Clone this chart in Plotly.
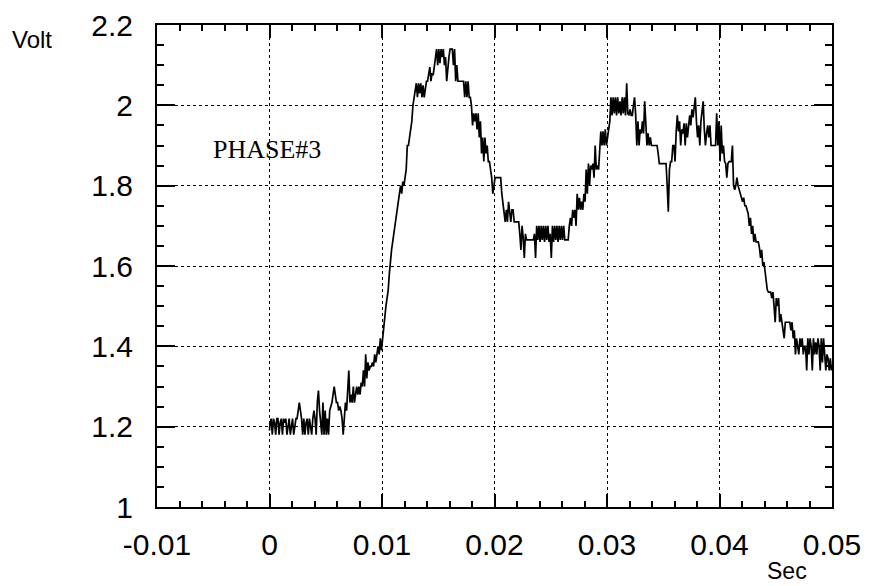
import plotly.graph_objects as go

baseline = [
    (0.00, 1.19), (0.05, 1.21), (0.15, 1.22), (0.25, 1.18), (0.35, 1.22), (0.45, 1.21), (0.55, 1.18), (0.65, 1.22),
    (0.75, 1.22), (0.85, 1.18), (0.95, 1.21), (1.05, 1.22), (1.15, 1.18), (1.25, 1.22), (1.35, 1.21), (1.45, 1.22),
    (1.55, 1.18), (1.65, 1.20), (1.75, 1.22), (1.85, 1.18), (1.95, 1.21), (2.05, 1.22), (2.15, 1.18), (2.25, 1.20),
    (2.35, 1.22), (2.45, 1.22), (2.55, 1.24), (2.65, 1.26), (2.75, 1.24), (2.85, 1.22), (2.95, 1.18), (3.05, 1.22),
    (3.15, 1.18), (3.25, 1.21), (3.35, 1.22), (3.45, 1.18), (3.55, 1.22), (3.65, 1.20), (3.75, 1.18), (3.85, 1.22),
    (3.95, 1.24), (4.05, 1.22), (4.15, 1.18), (4.25, 1.26), (4.35, 1.29), (4.45, 1.24), (4.55, 1.20), (4.65, 1.18),
    (4.75, 1.26), (4.85, 1.18), (4.95, 1.24), (5.05, 1.18), (5.15, 1.22), (5.25, 1.18), (5.35, 1.24), (5.45, 1.25),
    (5.55, 1.26), (5.65, 1.28), (5.75, 1.30), (5.85, 1.28), (5.95, 1.26), (6.05, 1.26), (6.15, 1.24), (6.25, 1.25),
    (6.35, 1.24), (6.45, 1.22), (6.55, 1.18), (6.65, 1.22), (6.75, 1.26), (6.85, 1.24), (6.95, 1.28), (7.05, 1.34),
    (7.15, 1.26), (7.25, 1.28), (7.35, 1.26), (7.45, 1.30), (7.55, 1.26), (7.65, 1.28), (7.75, 1.30), (7.85, 1.28),
    (7.95, 1.30), (8.05, 1.28), (8.15, 1.31), (8.25, 1.30), (8.35, 1.34), (8.45, 1.30), (8.55, 1.38), (8.65, 1.32),
    (8.75, 1.36), (8.85, 1.34), (8.95, 1.35), (9.05, 1.35), (9.15, 1.36), (9.25, 1.35), (9.35, 1.38), (9.45, 1.36),
    (9.55, 1.38), (9.65, 1.40), (9.75, 1.38), (9.85, 1.42), (9.95, 1.39),
]

first_peak = [
    (10.05, 1.42), (10.15, 1.44), (10.25, 1.48), (10.35, 1.50), (10.45, 1.52), (10.55, 1.54), (10.65, 1.58),
    (10.75, 1.62), (10.85, 1.64), (10.95, 1.66), (11.05, 1.68), (11.15, 1.70), (11.25, 1.72), (11.35, 1.74),
    (11.45, 1.77), (11.55, 1.78), (11.65, 1.80), (11.75, 1.78), (11.85, 1.81), (11.95, 1.80), (12.05, 1.82),
    (12.15, 1.84), (12.25, 1.90), (12.35, 1.90), (12.45, 1.92), (12.55, 1.94), (12.65, 1.96), (12.75, 2.00),
    (12.85, 2.02), (12.95, 2.04), (13.05, 2.055), (13.15, 2.02), (13.25, 2.055), (13.35, 2.03), (13.45, 2.055),
    (13.55, 2.02), (13.65, 2.05), (13.75, 2.02), (13.85, 2.04), (13.95, 2.06), (14.05, 2.06), (14.15, 2.08),
    (14.25, 2.095), (14.35, 2.06), (14.45, 2.08), (14.55, 2.075), (14.65, 2.10), (14.75, 2.11), (14.85, 2.14),
    (14.95, 2.10), (15.05, 2.14), (15.15, 2.105), (15.25, 2.14), (15.35, 2.12), (15.45, 2.14), (15.55, 2.10),
    (15.65, 2.12), (15.75, 2.06), (15.85, 2.10), (15.95, 2.12), (16.05, 2.14), (16.15, 2.14), (16.25, 2.14),
    (16.35, 2.10), (16.45, 2.14), (16.55, 2.06), (16.65, 2.10), (16.75, 2.06), (16.85, 2.06), (17.05, 2.06),
    (17.25, 2.06), (17.35, 2.02), (17.45, 2.06), (17.55, 2.02), (17.65, 2.06), (17.75, 2.02), (17.85, 2.02),
    (17.95, 2.00), (18.05, 1.95), (18.15, 1.98), (18.25, 1.96), (18.35, 1.98), (18.45, 1.94), (18.55, 1.98),
    (18.65, 1.92), (18.75, 1.96), (18.85, 1.88), (18.95, 1.92), (19.05, 1.86), (19.15, 1.92), (19.25, 1.88),
    (19.35, 1.90), (19.45, 1.86), (19.55, 1.86), (19.65, 1.84), (19.75, 1.82), (19.85, 1.78), (19.95, 1.80),
]

valley = [
    (20.05, 1.82), (20.15, 1.82), (20.35, 1.82), (20.55, 1.82), (20.65, 1.78), (20.75, 1.75), (20.85, 1.74),
    (20.95, 1.71), (21.05, 1.74), (21.15, 1.71), (21.25, 1.76), (21.35, 1.74), (21.45, 1.71), (21.55, 1.74),
    (21.65, 1.74), (21.75, 1.71), (21.95, 1.71), (22.15, 1.71), (22.25, 1.68), (22.35, 1.64), (22.45, 1.70),
    (22.55, 1.67), (22.65, 1.62), (22.75, 1.68), (22.85, 1.665), (23.05, 1.665), (23.25, 1.665), (23.45, 1.665),
    (23.55, 1.68), (23.65, 1.62), (23.75, 1.70), (23.85, 1.665), (23.95, 1.70), (24.05, 1.66), (24.15, 1.70),
    (24.25, 1.665), (24.35, 1.70), (24.45, 1.66), (24.55, 1.70), (24.65, 1.665), (24.75, 1.70), (24.85, 1.66),
    (24.95, 1.68), (25.05, 1.62), (25.15, 1.70), (25.25, 1.66), (25.35, 1.70), (25.45, 1.665), (25.55, 1.70),
    (25.65, 1.66), (25.75, 1.70), (25.85, 1.665), (25.95, 1.70), (26.05, 1.665), (26.15, 1.70), (26.25, 1.665),
    (26.35, 1.665), (26.55, 1.665), (26.65, 1.70), (26.75, 1.72), (26.85, 1.70), (26.95, 1.74), (27.05, 1.72),
    (27.15, 1.74), (27.25, 1.70), (27.35, 1.78), (27.45, 1.74), (27.55, 1.77), (27.65, 1.74), (27.75, 1.76),
    (27.85, 1.74), (27.95, 1.78), (28.05, 1.76), (28.15, 1.84), (28.25, 1.78), (28.35, 1.855), (28.45, 1.80),
    (28.55, 1.85), (28.65, 1.84), (28.75, 1.855), (28.85, 1.82), (28.95, 1.90), (29.05, 1.84), (29.15, 1.85),
    (29.25, 1.84), (29.35, 1.88), (29.45, 1.935), (29.55, 1.90), (29.65, 1.935), (29.75, 1.90), (29.85, 1.94),
    (29.95, 1.90),
]

second_peak = [
    (30.05, 1.92), (30.15, 1.94), (30.25, 1.96), (30.35, 2.02), (30.45, 1.975), (30.55, 2.02), (30.65, 1.98),
    (30.75, 2.02), (30.85, 1.975), (30.95, 2.02), (31.05, 1.98), (31.15, 2.01), (31.25, 1.975), (31.35, 2.02),
    (31.45, 1.98), (31.55, 2.02), (31.65, 1.975), (31.75, 2.055), (31.85, 1.98), (31.95, 1.975), (32.05, 1.99),
    (32.15, 1.975), (32.25, 1.975), (32.35, 2.00), (32.45, 2.02), (32.55, 1.975), (32.65, 1.90), (32.75, 1.96),
    (32.85, 1.90), (32.95, 1.94), (33.05, 1.93), (33.15, 1.96), (33.25, 1.93), (33.35, 2.01), (33.45, 1.93),
    (33.55, 1.90), (33.65, 1.93), (33.75, 1.90), (33.85, 1.92), (33.95, 1.90), (34.05, 1.90), (34.25, 1.90),
    (34.45, 1.90), (34.55, 1.88), (34.65, 1.855), (34.85, 1.855), (35.05, 1.855), (35.25, 1.855), (35.35, 1.80),
    (35.45, 1.735), (35.55, 1.84), (35.65, 1.86), (35.75, 1.86), (35.85, 1.90), (35.95, 1.90), (36.05, 1.86),
    (36.15, 1.935), (36.25, 1.975), (36.35, 1.935), (36.45, 1.96), (36.55, 1.90), (36.65, 1.94), (36.75, 1.93),
    (36.85, 1.955), (36.95, 1.90), (37.05, 1.955), (37.15, 1.92), (37.25, 1.96), (37.35, 1.975), (37.45, 1.95),
    (37.55, 1.99), (37.65, 1.97), (37.75, 2.005), (37.85, 2.02), (37.95, 1.96), (38.05, 1.92), (38.15, 1.95),
    (38.25, 1.90), (38.35, 1.96), (38.45, 1.98), (38.55, 2.01), (38.65, 1.94), (38.75, 1.90), (38.85, 1.93),
    (38.95, 1.95), (39.05, 1.92), (39.15, 1.95), (39.25, 1.90), (39.45, 1.90), (39.65, 1.90), (39.75, 1.98),
    (39.85, 1.90), (39.95, 1.96),
]

tail = [
    (40.05, 1.86), (40.15, 1.95), (40.25, 1.88), (40.35, 1.90), (40.45, 1.86), (40.55, 1.855), (40.65, 1.82),
    (40.75, 1.855), (40.85, 1.86), (41.05, 1.86), (41.15, 1.90), (41.25, 1.80), (41.35, 1.79), (41.45, 1.80),
    (41.55, 1.82), (41.65, 1.80), (41.75, 1.79), (41.85, 1.78), (41.95, 1.77), (42.05, 1.76), (42.15, 1.77),
    (42.25, 1.75), (42.35, 1.75), (42.45, 1.735), (42.55, 1.73), (42.65, 1.70), (42.75, 1.72), (42.85, 1.68),
    (42.95, 1.70), (43.05, 1.66), (43.15, 1.68), (43.25, 1.66), (43.45, 1.66), (43.55, 1.645), (43.65, 1.62),
    (43.75, 1.64), (43.85, 1.60), (43.95, 1.61), (44.05, 1.59), (44.15, 1.56), (44.25, 1.54), (44.35, 1.535),
    (44.55, 1.535), (44.65, 1.52), (44.75, 1.535), (44.85, 1.50), (44.95, 1.46), (45.05, 1.52), (45.15, 1.50),
    (45.25, 1.52), (45.35, 1.46), (45.45, 1.48), (45.55, 1.46), (45.65, 1.44), (45.75, 1.42), (45.85, 1.46),
    (46.05, 1.46), (46.25, 1.46), (46.35, 1.44), (46.45, 1.46), (46.55, 1.42), (46.65, 1.44), (46.75, 1.38),
    (46.85, 1.42), (46.95, 1.40), (47.05, 1.38), (47.15, 1.42), (47.25, 1.40), (47.35, 1.42), (47.45, 1.38),
    (47.55, 1.40), (47.65, 1.40), (47.75, 1.34), (47.85, 1.42), (47.95, 1.38), (48.05, 1.42), (48.15, 1.40),
    (48.25, 1.34), (48.35, 1.42), (48.45, 1.38), (48.55, 1.41), (48.65, 1.38), (48.75, 1.42), (48.85, 1.40),
    (48.95, 1.34), (49.05, 1.42), (49.15, 1.36), (49.25, 1.42), (49.35, 1.38), (49.45, 1.34), (49.55, 1.38),
    (49.65, 1.37), (49.75, 1.34), (49.85, 1.37), (49.95, 1.34), (50.00, 1.35),
]

x_ticks = [-0.01, 0, 0.01, 0.02, 0.03, 0.04, 0.05]
x_labels = ["-0.01", "0", "0.01", "0.02", "0.03", "0.04", "0.05"]
y_ticks = [1, 1.2, 1.4, 1.6, 1.8, 2, 2.2]
y_labels = ["1", "1.2", "1.4", "1.6", "1.8", "2", "2.2"]

samples = baseline + first_peak + valley + second_peak + tail
t_sec = [ms / 1000 for ms, _ in samples]
volts = [v for _, v in samples]

fig = go.Figure()
fig.add_trace(go.Scatter(x=t_sec, y=volts, mode="lines",
                         line=dict(color="black", width=1.7), showlegend=False))

axis_font = dict(family="Liberation Sans, Arial, sans-serif", size=30, color="black")

fig.update_xaxes(range=[-0.01, 0.05], tickmode="array", tickvals=x_ticks, ticktext=x_labels,
                 ticks="inside", ticklen=13, tickwidth=2, tickcolor="black",
                 showline=True, linecolor="black", linewidth=2, mirror="allticks",
                 showgrid=True, gridcolor="black", gridwidth=1.2, griddash="dot",
                 zeroline=False, tickfont=axis_font, automargin=False,
                 ticklabelstandoff=10,
                 minor=dict(tickmode="linear", tick0=0, dtick=0.002, ticks="inside", ticklen=6,
                            tickcolor="black", tickwidth=2, showgrid=False))
fig.update_yaxes(range=[1, 2.2], tickmode="array", tickvals=y_ticks, ticktext=y_labels,
                 ticks="inside", ticklen=18, tickwidth=2, tickcolor="black",
                 showline=True, linecolor="black", linewidth=2, mirror="allticks",
                 showgrid=True, gridcolor="black", gridwidth=1.2, griddash="dot",
                 zeroline=False, tickfont=axis_font, automargin=False,
                 ticklabelstandoff=16,
                 minor=dict(tickmode="linear", tick0=1, dtick=0.05, ticks="inside", ticklen=7,
                            tickcolor="black", tickwidth=2, showgrid=False))

fig.add_annotation(x=-0.0002, y=1.889, xref="x", yref="y", text="PHASE#3", showarrow=False,
                   xanchor="center", yanchor="middle",
                   font=dict(family="Liberation Serif, Times New Roman, serif", size=26, color="black"))
# page body adds an 8px offset, so the paper is 861x578 and placed at (8, 8)
fig.add_annotation(x=-0.185, y=0.969, xref="paper", yref="paper", text="Volt", showarrow=False,
                   xanchor="center", yanchor="middle",
                   font=dict(family="Liberation Sans, Arial, sans-serif", size=24, color="black"))
fig.add_annotation(x=0.933, y=-0.133, xref="paper", yref="paper", text="Sec", showarrow=False,
                   xanchor="center", yanchor="middle",
                   font=dict(family="Liberation Sans, Arial, sans-serif", size=23, color="black"))

fig.update_layout(width=861, height=578, template="none",
                  plot_bgcolor="white", paper_bgcolor="white",
                  margin=dict(l=149, r=37, t=17, b=79))

fig.write_html("out.html")
